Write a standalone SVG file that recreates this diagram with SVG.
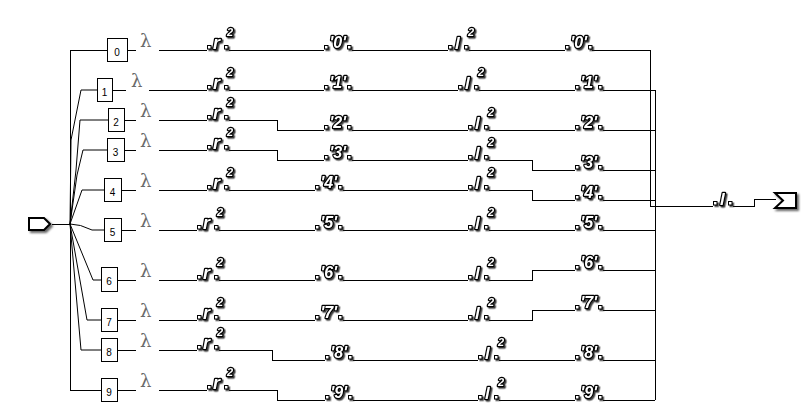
<svg xmlns="http://www.w3.org/2000/svg" xmlns:xlink="http://www.w3.org/1999/xlink" width="807" height="416" viewBox="0 0 807 416">
<style>
.w{fill:none;stroke:#000;stroke-width:1;shape-rendering:crispEdges}
.f{fill:none;stroke:#000;stroke-width:1}
.bx{fill:#fff;stroke:#000;stroke-width:1;shape-rendering:crispEdges}
.bt{font-family:"Liberation Sans",Arial,sans-serif;font-size:10px;fill:#000;text-anchor:middle}
.lam{font-family:"DejaVu Serif","Liberation Serif",serif;font-size:18px;fill:#6a6a6a}
.gl{font-family:"Liberation Sans",Arial,sans-serif;font-weight:bold;font-style:italic;fill:#fff;stroke:#000;stroke-width:2.4;paint-order:stroke;stroke-linejoin:round}
.tm{fill:#fff;stroke:#000;stroke-width:1}
.io{fill:#fff;stroke:#000;stroke-width:2;stroke-linejoin:miter}
</style>
<defs>
<filter id="sh" x="-30%" y="-30%" width="170%" height="170%"><feDropShadow dx="1.5" dy="1.5" stdDeviation="0.3" flood-color="#222" flood-opacity="0.85"/></filter>
<filter id="sh2" x="-30%" y="-30%" width="170%" height="170%"><feDropShadow dx="2" dy="2" stdDeviation="1" flood-color="#000" flood-opacity="0.6"/></filter>
<g id="rT">
<rect class="tm" x="0.5" y="-4.5" width="3.5" height="3.5"/>
<text class="gl" x="6" y="-1.5" font-size="18">r</text>
<rect class="tm" x="17.5" y="-4.5" width="3.5" height="3.5"/>
<text class="gl" x="20" y="-14.5" font-size="11">2</text>
</g>
<g id="lT">
<rect class="tm" x="0.5" y="-4.5" width="3.5" height="3.5"/>
<text class="gl" x="7" y="-1.5" font-size="17">l</text>
<rect class="tm" x="16.5" y="-4.5" width="3.5" height="3.5"/>
<text class="gl" x="20" y="-14.5" font-size="11">2</text>
</g>
<g id="dT">
<rect class="tm" x="0.5" y="-4.5" width="3.5" height="3.5"/>
<rect class="tm" x="23.5" y="-4.5" width="3.5" height="3.5"/>
</g>
</defs>
<rect width="807" height="416" fill="#fff"/>

<g id="connectors">
<path class="w" d="M52,224H70"/>
<path class="w" d="M70,50V390"/>
<path class="w" d="M70,50H107"/>
<path class="w" d="M70,390H101"/>
<path class="f" d="M70,224L71,140L81,90H97"/>
<path class="f" d="M70,224L76,170L80,120H108"/>
<path class="f" d="M70,224L77,175L83,150H107"/>
<path class="f" d="M70,224L82,190H104"/>
<path class="f" d="M70,224Q80,224 92,230H104"/>
<path class="f" d="M70,224L93,280H101"/>
<path class="f" d="M70,224L87,320H101"/>
<path class="f" d="M70,224L81,350H101"/>
<path class="w" d="M127,50H136M112,90H126M124,120H136M124,150H136M121,190H136M121,230H136M117,280H136M117,320H136M117,350H136M117,390H136"/>
<path class="w" d="M159,50H207M149,90H207M159,120H207M159,150H207M159,190H207M159,230H197M159,280H197M159,320H197M159,350H197M159,390H207"/>
<path class="w" d="M229,50H324M229,90H324M229,120H277V130H324M229,150H277V160H324M229,190H315M219,230H315M219,280H315M219,320H315M219,350H272V360H325M229,390H277V400H325"/>
<path class="w" d="M352,50H448M352,90H458M352,130H468M352,160H468M343,190H468M343,230H468M343,280H468M343,320H468M353,360H478M353,400H478"/>
<path class="w" d="M469,50H565M479,90H575M489,130H575M489,160H532V170H575M489,190H532V200H575M489,230H575M489,280H532V270H575M489,320H532V310H575M499,360H575M499,400H575"/>
<path class="w" d="M592,50H650V206H713"/>
<path class="w" d="M603,90H655M603,130H655M603,170H655M603,200H655M603,230H655M603,270H655M603,310H655M603,360H655M603,400H655M655,90V400"/>
<path class="w" d="M733,206H754V199H776"/>
</g>

<g id="nodes">
<g id="source" filter="url(#sh2)"><polygon class="io" points="29,218 44,218 50,224 44,230 29,230"/></g>
<g id="sink" filter="url(#sh2)"><polygon class="io" points="775,193 796,193 796,208 775,208 783,200.5"/></g>

<g id="box0"><rect class="bx" x="107.5" y="38.5" width="20" height="23"/><text class="bt" x="117" y="56">0</text></g>
<g id="box1"><rect class="bx" x="97.5" y="78.5" width="15" height="23"/><text class="bt" x="104.5" y="96">1</text></g>
<g id="box2"><rect class="bx" x="108.5" y="108.5" width="16" height="23"/><text class="bt" x="116" y="126">2</text></g>
<g id="box3"><rect class="bx" x="107.5" y="138.5" width="17" height="23"/><text class="bt" x="115.5" y="156">3</text></g>
<g id="box4"><rect class="bx" x="104.5" y="178.5" width="17" height="23"/><text class="bt" x="112.5" y="196">4</text></g>
<g id="box5"><rect class="bx" x="104.5" y="218.5" width="17" height="23"/><text class="bt" x="112.5" y="236">5</text></g>
<g id="box6"><rect class="bx" x="101.5" y="267.5" width="16" height="24"/><text class="bt" x="109" y="285">6</text></g>
<g id="box7"><rect class="bx" x="101.5" y="308.5" width="16" height="23"/><text class="bt" x="109" y="326">7</text></g>
<g id="box8"><rect class="bx" x="101.5" y="338.5" width="16" height="23"/><text class="bt" x="109" y="356">8</text></g>
<g id="box9"><rect class="bx" x="101.5" y="378.5" width="16" height="23"/><text class="bt" x="109" y="396">9</text></g>

<g id="lambda0"><text class="lam" x="140" y="47">λ</text></g>
<g id="lambda1"><text class="lam" x="131" y="87">λ</text></g>
<g id="lambda2"><text class="lam" x="140" y="117">λ</text></g>
<g id="lambda3"><text class="lam" x="140" y="147">λ</text></g>
<g id="lambda4"><text class="lam" x="140" y="187">λ</text></g>
<g id="lambda5"><text class="lam" x="140" y="227">λ</text></g>
<g id="lambda6"><text class="lam" x="140" y="277">λ</text></g>
<g id="lambda7"><text class="lam" x="140" y="317">λ</text></g>
<g id="lambda8"><text class="lam" x="140" y="347">λ</text></g>
<g id="lambda9"><text class="lam" x="140" y="387">λ</text></g>

<g id="sq0" filter="url(#sh)"><use href="#rT" x="207" y="50"/></g>
<g id="sq1" filter="url(#sh)"><use href="#rT" x="207" y="90"/></g>
<g id="sq2" filter="url(#sh)"><use href="#rT" x="207" y="120"/></g>
<g id="sq3" filter="url(#sh)"><use href="#rT" x="207" y="150"/></g>
<g id="sq4" filter="url(#sh)"><use href="#rT" x="207" y="190"/></g>
<g id="sq5" filter="url(#sh)"><use href="#rT" x="197" y="230"/></g>
<g id="sq6" filter="url(#sh)"><use href="#rT" x="197" y="280"/></g>
<g id="sq7" filter="url(#sh)"><use href="#rT" x="197" y="320"/></g>
<g id="sq8" filter="url(#sh)"><use href="#rT" x="197" y="350"/></g>
<g id="sq9" filter="url(#sh)"><use href="#rT" x="207" y="390"/></g>

<g id="chr0" filter="url(#sh)"><use href="#dT" x="324" y="50"/><text class="gl" x="329.5" y="48" font-size="16">'0'</text></g>
<g id="chr1" filter="url(#sh)"><use href="#dT" x="324" y="90"/><text class="gl" x="329.5" y="88" font-size="16">'1'</text></g>
<g id="chr2" filter="url(#sh)"><use href="#dT" x="324" y="130"/><text class="gl" x="329.5" y="128" font-size="16">'2'</text></g>
<g id="chr3" filter="url(#sh)"><use href="#dT" x="324" y="160"/><text class="gl" x="329.5" y="158" font-size="16">'3'</text></g>
<g id="chr4" filter="url(#sh)"><use href="#dT" x="315" y="190"/><text class="gl" x="320.5" y="188" font-size="16">'4'</text></g>
<g id="chr5" filter="url(#sh)"><use href="#dT" x="315" y="230"/><text class="gl" x="320.5" y="228" font-size="16">'5'</text></g>
<g id="chr6" filter="url(#sh)"><use href="#dT" x="315" y="280"/><text class="gl" x="320.5" y="278" font-size="16">'6'</text></g>
<g id="chr7" filter="url(#sh)"><use href="#dT" x="315" y="320"/><text class="gl" x="320.5" y="318" font-size="16">'7'</text></g>
<g id="chr8" filter="url(#sh)"><use href="#dT" x="325" y="360"/><text class="gl" x="330.5" y="358" font-size="16">'8'</text></g>
<g id="chr9" filter="url(#sh)"><use href="#dT" x="325" y="400"/><text class="gl" x="330.5" y="398" font-size="16">'9'</text></g>

<g id="len0" filter="url(#sh)"><use href="#lT" x="448" y="50"/></g>
<g id="len1" filter="url(#sh)"><use href="#lT" x="458" y="90"/></g>
<g id="len2" filter="url(#sh)"><use href="#lT" x="468" y="130"/></g>
<g id="len3" filter="url(#sh)"><use href="#lT" x="468" y="160"/></g>
<g id="len4" filter="url(#sh)"><use href="#lT" x="468" y="190"/></g>
<g id="len5" filter="url(#sh)"><use href="#lT" x="468" y="230"/></g>
<g id="len6" filter="url(#sh)"><use href="#lT" x="468" y="280"/></g>
<g id="len7" filter="url(#sh)"><use href="#lT" x="468" y="320"/></g>
<g id="len8" filter="url(#sh)"><use href="#lT" x="478" y="360"/></g>
<g id="len9" filter="url(#sh)"><use href="#lT" x="478" y="400"/></g>

<g id="out0" filter="url(#sh)"><use href="#dT" x="565" y="50"/><text class="gl" x="570.5" y="48" font-size="16">'0'</text></g>
<g id="out1" filter="url(#sh)"><use href="#dT" x="575" y="90"/><text class="gl" x="580.5" y="88" font-size="16">'1'</text></g>
<g id="out2" filter="url(#sh)"><use href="#dT" x="575" y="130"/><text class="gl" x="580.5" y="128" font-size="16">'2'</text></g>
<g id="out3" filter="url(#sh)"><use href="#dT" x="575" y="170"/><text class="gl" x="580.5" y="168" font-size="16">'3'</text></g>
<g id="out4" filter="url(#sh)"><use href="#dT" x="575" y="200"/><text class="gl" x="580.5" y="198" font-size="16">'4'</text></g>
<g id="out5" filter="url(#sh)"><use href="#dT" x="575" y="230"/><text class="gl" x="580.5" y="228" font-size="16">'5'</text></g>
<g id="out6" filter="url(#sh)"><use href="#dT" x="575" y="270"/><text class="gl" x="580.5" y="268" font-size="16">'6'</text></g>
<g id="out7" filter="url(#sh)"><use href="#dT" x="575" y="310"/><text class="gl" x="580.5" y="308" font-size="16">'7'</text></g>
<g id="out8" filter="url(#sh)"><use href="#dT" x="575" y="360"/><text class="gl" x="580.5" y="358" font-size="16">'8'</text></g>
<g id="out9" filter="url(#sh)"><use href="#dT" x="575" y="400"/><text class="gl" x="580.5" y="398" font-size="16">'9'</text></g>

<g id="lenfinal" filter="url(#sh)">
<rect class="tm" x="713.5" y="201.5" width="3.5" height="3.5"/>
<text class="gl" x="720" y="204.5" font-size="17">l</text>
<rect class="tm" x="728.5" y="201.5" width="3.5" height="3.5"/>
</g>
</g>
</svg>
